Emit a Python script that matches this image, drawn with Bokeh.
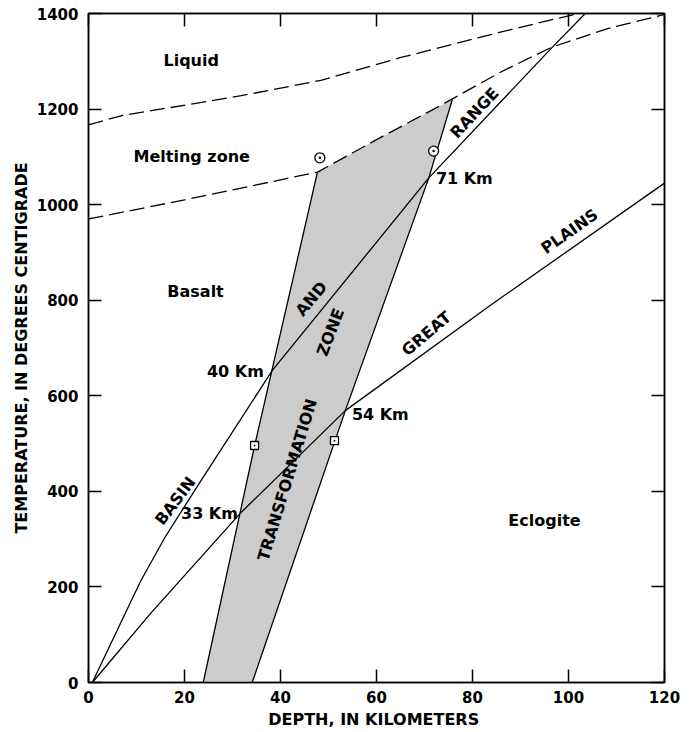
import numpy as np
from bokeh.plotting import figure
from bokeh.models import Range1d, LinearAxis, FixedTicker
from bokeh.core.properties import value
from bokeh.embed import file_html
from bokeh.resources import INLINE

FONT = "DejaVu Sans"

# ---- data ----
x_ticks = [0, 20, 40, 60, 80, 100, 120]
y_ticks = [0, 200, 400, 600, 800, 1000, 1200, 1400]

liquidus_depth = [0, 6.8, 31.8, 48.4, 65.1, 85.8, 102.0]
liquidus_temp = [1167, 1186, 1228, 1260, 1308, 1361, 1400]

solidus_depth = [0, 20, 47.7, 60, 72.7, 85.8, 96.4, 108, 120]
solidus_temp = [970, 1010, 1068, 1136, 1204, 1277, 1329, 1368, 1398]

basin_range_depth = [0.8, 3.5, 6.0, 10.9, 16.0, 23.4, 38.3, 70.9, 96.4, 103.5]
basin_range_temp = [0, 57, 110, 213, 305, 422, 653, 1056, 1327, 1400]

great_plains_depth = [0.8, 12.9, 31.7, 53.5, 84.1, 120]
great_plains_temp = [0, 144, 355, 569, 792, 1045]

zone_left_depth = [23.9, 34.6, 47.7]
zone_left_temp = [0, 495, 1068]
zone_top_depth = [47.7, 60, 72.7, 75.8]
zone_top_temp = [1068, 1136, 1204, 1220]
zone_right_depth = [34.1, 53.5, 70.9, 75.8]
zone_right_temp = [0, 569, 1056, 1220]

melt_pt_depth = [48.2, 71.9]
melt_pt_temp = [1098, 1112]
trans_pt_depth = [34.6, 51.25]
trans_pt_temp = [496, 506]

region_names = ["Liquid", "Melting zone", "Basalt", "Eclogite"]
region_depth = [21.4, 21.5, 22.3, 95.0]
region_temp = [1302, 1101, 818, 340]

km_names = ["40 Km", "33 Km", "54 Km", "71 Km"]
km_depth = [30.6, 25.2, 60.8, 78.3]
km_temp = [650, 354, 560, 1054]

curve_names = ["BASIN", "AND", "RANGE", "GREAT", "PLAINS", "TRANSFORMATION", "ZONE"]
curve_depth = [18.1, 46.4, 80.4, 70.4, 100.2, 41.4, 50.4]
curve_temp = [380, 803, 1192, 730, 944, 424, 733]
curve_angle_deg = [53, 50, 47, 40, 35, 73, 69]

# ---- figure ----
p = figure(width=694, height=732, x_range=Range1d(0, 120), y_range=Range1d(0, 1400),
           output_backend="svg", toolbar_location=None,
           min_border_left=88, min_border_right=30, min_border_top=13, min_border_bottom=50)
p.background_fill_color = "white"
p.border_fill_color = "white"
p.outline_line_color = "black"
p.outline_line_width = 1.5
p.xgrid.visible = False
p.ygrid.visible = False

def style_axis(ax, ticks, show_labels=True):
    ax.ticker = FixedTicker(ticks=ticks)
    ax.major_tick_in = 13
    ax.major_tick_out = 0
    ax.minor_tick_line_color = None
    ax.major_tick_line_color = "black"
    ax.major_tick_line_width = 1.5
    ax.axis_line_color = "black"
    ax.axis_line_width = 1.5
    ax.major_label_text_font = FONT
    ax.major_label_text_font_style = "bold"
    ax.major_label_text_font_size = "15px"
    if show_labels:
        ax.major_label_text_color = "black"
    else:
        ax.major_label_text_color = None
        ax.major_label_standoff = 0

xb = p.below[0]
yl = p.left[0]
style_axis(xb, x_ticks)
style_axis(yl, y_ticks)
xb.major_label_standoff = 8
yl.major_label_standoff = 10
xb.axis_label = "DEPTH, IN  KILOMETERS"
yl.axis_label = "TEMPERATURE, IN DEGREES CENTIGRADE"
for ax in (xb, yl):
    ax.axis_label_text_font = FONT
    ax.axis_label_text_font_style = "bold"
    ax.axis_label_text_font_size = "16px"
    ax.axis_label_text_color = "black"
xb.axis_label_standoff = 4
yl.axis_label_standoff = 3

xt = LinearAxis()
style_axis(xt, x_ticks, show_labels=False)
p.add_layout(xt, "above")
yr = LinearAxis()
style_axis(yr, y_ticks, show_labels=False)
p.add_layout(yr, "right")

# transformation zone (shaded)
poly_x = zone_left_depth + zone_top_depth[1:] + zone_right_depth[::-1][1:]
poly_y = zone_left_temp + zone_top_temp[1:] + zone_right_temp[::-1][1:]
p.patch(poly_x, poly_y, fill_color="#cccccc", line_color=None)
p.line(zone_left_depth, zone_left_temp, line_color="black", line_width=1.3)
p.line(zone_right_depth, zone_right_temp, line_color="black", line_width=1.3)

# melting curves
p.line(liquidus_depth, liquidus_temp, line_color="black", line_width=1.3, line_dash="15 6")
p.line(solidus_depth, solidus_temp, line_color="black", line_width=1.3, line_dash="15 6")

# geotherms
p.line(basin_range_depth, basin_range_temp, line_color="black", line_width=1.3)
p.line(great_plains_depth, great_plains_temp, line_color="black", line_width=1.3)

# markers
p.scatter(melt_pt_depth, melt_pt_temp, marker="circle_dot", size=10,
          fill_color="white", line_color="black", line_width=1.3)
p.scatter(trans_pt_depth, trans_pt_temp, marker="square_dot", size=8,
          fill_color="white", line_color="black", line_width=1.3)

# text
common = dict(text_font=value(FONT), text_font_style="bold", text_font_size="16px",
              text_color="black", text_align="center", text_baseline="middle")
p.text(x=region_depth, y=region_temp, text=region_names, **common)
p.text(x=km_depth, y=km_temp, text=km_names, **common)
p.text(x=curve_depth, y=curve_temp, text=curve_names,
       angle=list(np.radians(curve_angle_deg)), **common)

open("out.html", "w").write(file_html(p, INLINE))
